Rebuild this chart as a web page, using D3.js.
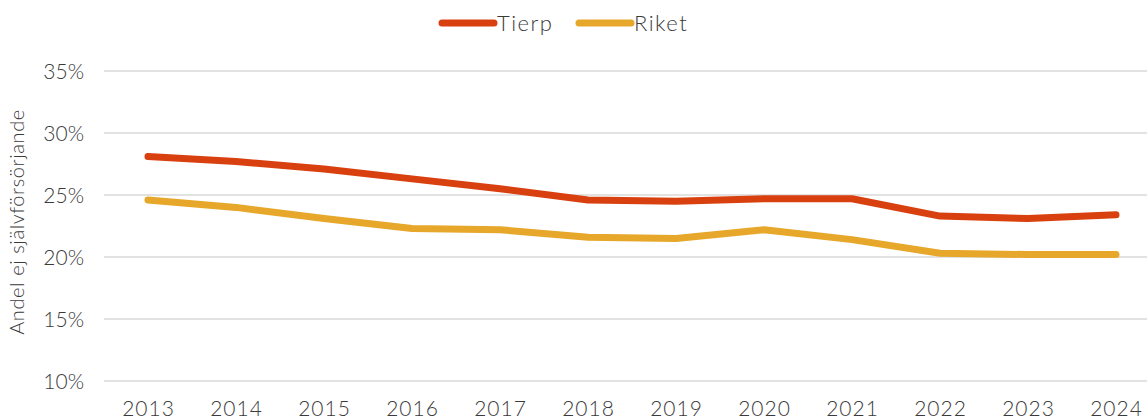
<!DOCTYPE html>
<html>
<head>
<meta charset="utf-8">
<script src="https://cdn.jsdelivr.net/npm/d3@7"></script>
<style>
  html, body { margin: 0; padding: 0; background: #fff; }
  svg { display: block; }
  text { font-family: Lato, "Open Sans", sans-serif; fill: #3a3a3a; }
</style>
</head>
<body>
<svg id="chart" width="1147" height="420"></svg>
<script>
// Andel ej självförsörjande, Tierp jämfört med riket
const years = ["2013","2014","2015","2016","2017","2018","2019","2020","2021","2022","2023","2024"];
const tierp = [28.1, 27.7, 27.1, 26.3, 25.5, 24.6, 24.5, 24.7, 24.7, 23.3, 23.1, 23.4];
const riket = [24.6, 24.0, 23.1, 22.3, 22.2, 21.6, 21.5, 22.2, 21.4, 20.3, 20.2, 20.2];
const yTicks = [10, 15, 20, 25, 30, 35];
const seriesNames = ["Tierp", "Riket"];
const seriesColors = ["#D9400F", "#E6A72A"];

const svg = d3.select("#chart");
const W = 1147;

const x = d3.scalePoint().domain(years).range([148, 1116]);
const y = d3.scaleLinear().domain([10, 35]).range([381, 71]);

// Gridlines
svg.append("g")
  .selectAll("line")
  .data(yTicks)
  .join("line")
  .attr("x1", 104).attr("x2", W)
  .attr("y1", d => y(d)).attr("y2", d => y(d))
  .attr("stroke", "#d9d9d9").attr("stroke-width", 1.5);

// Y axis labels
const yAxis = d3.axisLeft(y).tickValues(yTicks).tickFormat(d => d + "%").tickSize(0).tickPadding(0);
svg.append("g")
  .attr("transform", "translate(84,0)")
  .call(yAxis)
  .call(g => g.select(".domain").remove())
  .call(g => g.selectAll("text")
    .style("font-family", "Lato, 'Open Sans', sans-serif")
    .attr("font-size", 21).attr("font-weight", 300).attr("fill", "#3a3a3a").attr("dy", "0.35em"));

// X axis labels
const xAxis = d3.axisBottom(x).tickSize(0).tickPadding(0);
svg.append("g")
  .attr("transform", "translate(0,400)")
  .call(xAxis)
  .call(g => g.select(".domain").remove())
  .call(g => g.selectAll("text")
    .style("font-family", "Lato, 'Open Sans', sans-serif")
    .style("letter-spacing", "1px")
    .attr("font-size", 21).attr("font-weight", 300).attr("fill", "#3a3a3a").attr("dy", "0.75em"));

// Y axis title
svg.append("text")
  .attr("transform", "translate(24,222) rotate(-90)")
  .attr("text-anchor", "middle")
  .style("letter-spacing", "0.6px")
  .attr("font-size", 20).attr("font-weight", 300)
  .text("Andel ej självförsörjande");

// Lines
const line = d3.line().x((d, i) => x(years[i])).y(d => y(d));
[tierp, riket].forEach((vals, i) => {
  svg.append("path")
    .datum(vals)
    .attr("d", line)
    .attr("fill", "none")
    .attr("stroke", seriesColors[i])
    .attr("stroke-width", 7)
    .attr("stroke-linecap", "round")
    .attr("stroke-linejoin", "round");
});

// Legend
const legendX = [440, 577];
seriesNames.forEach((name, i) => {
  const g = svg.append("g").attr("transform", `translate(${legendX[i]},23)`);
  g.append("line").attr("x1", 2).attr("x2", 54).attr("y1", 0).attr("y2", 0)
    .attr("stroke", seriesColors[i]).attr("stroke-width", 7).attr("stroke-linecap", "round");
  g.append("text").attr("x", 57).attr("y", 0).attr("dy", "0.35em")
    .style("letter-spacing", "1.5px")
    .attr("font-size", 22).attr("font-weight", 300).text(name);
});
</script>
</body>
</html>
